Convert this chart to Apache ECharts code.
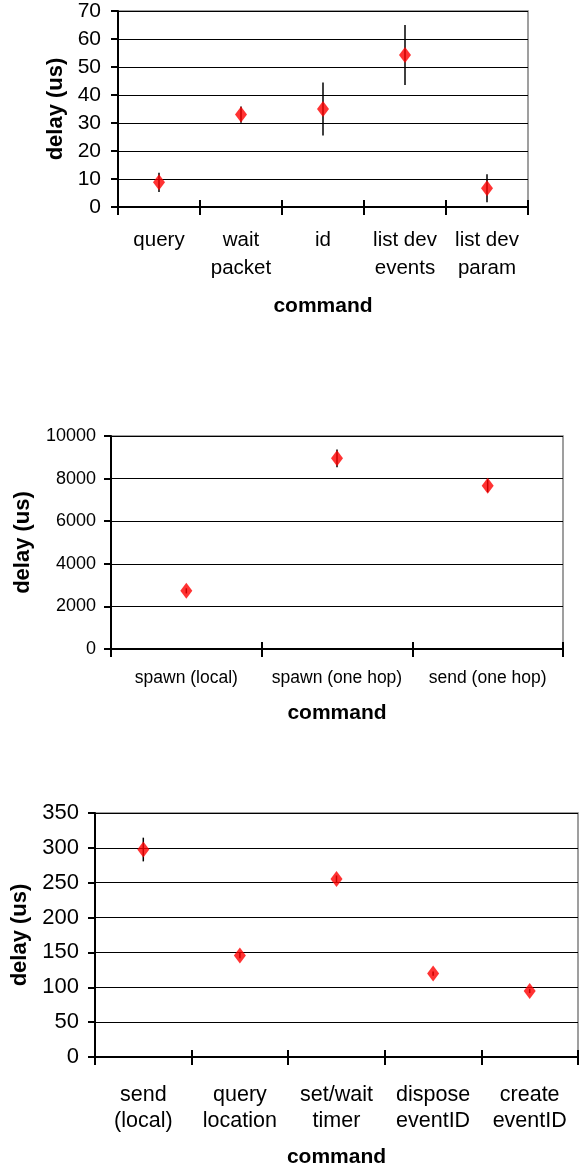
<!DOCTYPE html>
<html>
<head>
<meta charset="utf-8">
<script src="https://cdn.jsdelivr.net/npm/echarts@6/dist/echarts.min.js"></script>
<style>
  html, body { margin: 0; padding: 0; background: #fff; }
  #chart { width: 580px; height: 1166px; }
</style>
</head>
<body>
<div id="chart"></div>
<script>
// chart 1: basic commands
const cmds1 = ['query', 'wait\npacket', 'id', 'list dev\nevents', 'list dev\nparam']
const delay1 = [8.8, 33.0, 35.0, 54.3, 6.7]
const err1 = [3.4, 2.9, 9.5, 10.7, 5.0]
const ticks1 = { min: 0, max: 70, interval: 10 }

// chart 2: spawn / send one hop
const cmds2 = ['spawn (local)', 'spawn (one hop)', 'send (one hop)']
const delay2 = [2730, 8950, 7660]
const err2 = [120, 420, 300]
const ticks2 = { min: 0, max: 10000, interval: 2000 }

// chart 3: local operations
const cmds3 = ['send\n(local)', 'query\nlocation', 'set/wait\ntimer', 'dispose\neventID', 'create\neventID']
const delay3 = [297.6, 145.5, 255.4, 119.6, 94.7]
const err3 = [17, 4, 5, 3, 3]
const ticks3 = { min: 0, max: 350, interval: 50 }

const FONT = 'Liberation Sans, Arial, sans-serif'

const grids = [
  { left: 118, top: 11, width: 410, height: 196 },
  { left: 111, top: 436, width: 452, height: 213 },
  { left: 95, top: 813, width: 483, height: 244 }
]
const styles = [
  { tickFont: 21, tickMargin: 17, catFont: 20.5, lineH: 28, labelMargin: 19, nameGap: 89, yNameGap: 51 },
  { tickFont: 18, tickMargin: 15, catFont: 17.5, lineH: 20, labelMargin: 19, nameGap: 54, yNameGap: 77 },
  { tickFont: 22, tickMargin: 16, catFont: 21.5, lineH: 26, labelMargin: 25, nameGap: 90, yNameGap: 64 }
]
const sets = [
  [cmds1, delay1, err1, ticks1],
  [cmds2, delay2, err2, ticks2],
  [cmds3, delay3, err3, ticks3]
]

const xAxes = []
const yAxes = []
const series = []

sets.forEach(([cats, vals, errs, ticks], i) => {
  const st = styles[i]
  // main category axis, ticks outside
  xAxes.push({
    type: 'category', gridIndex: i, data: cats, boundaryGap: true,
    name: 'command', nameLocation: 'middle', nameGap: st.nameGap,
    nameTextStyle: { fontFamily: FONT, fontSize: 21, fontWeight: 'bold', color: '#000' },
    axisLine: { lineStyle: { color: '#000', width: 2 } },
    axisTick: { show: true, length: 8, alignWithLabel: false, lineStyle: { color: '#000', width: 2 } },
    axisLabel: { fontFamily: FONT, fontSize: st.catFont, lineHeight: st.lineH, color: '#000', margin: st.labelMargin, interval: 0 }
  })
  // twin axis only for the inner half of the crossing ticks
  xAxes.push({
    type: 'category', gridIndex: i, data: cats, boundaryGap: true, position: 'bottom',
    axisLine: { show: false },
    axisTick: { show: true, inside: true, length: 7, lineStyle: { color: '#000', width: 2 } },
    axisLabel: { show: false }
  })
  yAxes.push({
    type: 'value', gridIndex: i, min: ticks.min, max: ticks.max, interval: ticks.interval,
    name: 'delay (us)', nameLocation: 'middle', nameGap: st.yNameGap, nameRotate: 90,
    nameTextStyle: { fontFamily: FONT, fontSize: 22, fontWeight: 'bold', color: '#000' },
    axisLine: { show: true, lineStyle: { color: '#000', width: 2 } },
    axisTick: { show: true, length: 7, lineStyle: { color: '#000', width: 2 } },
    axisLabel: { fontFamily: FONT, fontSize: st.tickFont, color: '#000', margin: st.tickMargin, formatter: v => String(v) },
    splitLine: { show: true, lineStyle: { color: '#000', width: 1 } }
  })

  const bars = vals.map((v, k) => [k, v - errs[k], v + errs[k]])
  series.push({
    type: 'custom', xAxisIndex: i * 2, yAxisIndex: i, data: bars, z: 3,
    renderItem: (params, api) => {
      const lo = api.coord([api.value(0), api.value(1)])
      const hi = api.coord([api.value(0), api.value(2)])
      return {
        type: 'line',
        shape: { x1: lo[0], y1: lo[1], x2: hi[0], y2: hi[1] },
        style: { stroke: '#000', lineWidth: 1.5 }
      }
    }
  })
  series.push({
    type: 'scatter', xAxisIndex: i * 2, yAxisIndex: i, z: 4,
    data: vals.map((v, k) => [k, v]),
    symbol: 'diamond', symbolSize: [12, 16],
    itemStyle: { color: '#ff0000' }
  })
})

const chart = echarts.init(document.getElementById('chart'), null, { renderer: 'canvas' })
chart.setOption({
  animation: false,
  backgroundColor: '#fff',
  grid: grids.map(g => ({
    ...g, show: true, outerBoundsMode: 'none', containLabel: false,
    borderColor: '#808080', borderWidth: 1.5, backgroundColor: 'transparent'
  })),
  xAxis: xAxes,
  yAxis: yAxes,
  series: series
})
</script>
</body>
</html>
